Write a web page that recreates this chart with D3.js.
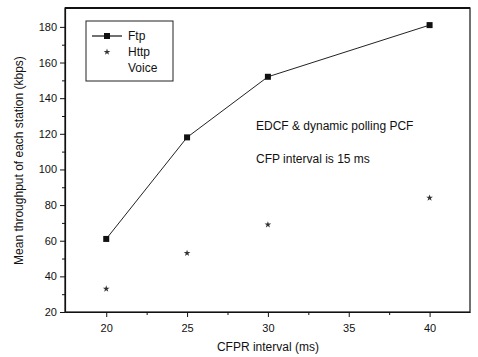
<!DOCTYPE html>
<html>
<head>
<meta charset="utf-8">
<script src="https://cdn.jsdelivr.net/npm/d3@7"></script>
<style>
  body { margin: 0; background: #fff; }
  svg { font-family: "Liberation Sans", Arial, sans-serif; }
</style>
</head>
<body>
<div id="chart"></div>
<script>
// data
const intervals = [20, 25, 30, 40];
const ftp = [61, 118, 152, 181];
const http = [33, 53, 69, 84];
const xTicks = [20, 25, 30, 35, 40];
const yTicks = [20, 40, 60, 80, 100, 120, 140, 160, 180];
const seriesNames = ["Ftp", "Http", "Voice"];
const notes = ["EDCF & dynamic polling PCF", "CFP interval is 15 ms"];

const width = 478, height = 357;
const margin = { left: 65, right: 8, top: 8, bottom: 45 };

const svg = d3.select("#chart").append("svg")
  .attr("width", width)
  .attr("height", height);

const x = d3.scaleLinear().domain([17.45, 42.5]).range([margin.left, width - margin.right]);
const y = d3.scaleLinear().domain([20, 190.6]).range([height - margin.bottom, margin.top]);

// frame
svg.append("rect")
  .attr("x", margin.left).attr("y", margin.top)
  .attr("width", width - margin.left - margin.right)
  .attr("height", height - margin.top - margin.bottom)
  .attr("fill", "none").attr("stroke", "#111").attr("stroke-width", 1.2);
svg.append("line")
  .attr("x1", margin.left).attr("x2", width - margin.right)
  .attr("y1", margin.top).attr("y2", margin.top)
  .attr("stroke", "#111").attr("stroke-width", 2);

// axes
const xAxis = svg.append("g")
  .attr("transform", `translate(0,${height - margin.bottom})`)
  .call(d3.axisBottom(x).tickValues(xTicks).tickSize(5).tickSizeOuter(0));
svg.append("g")
  .attr("transform", `translate(0,${height - margin.bottom})`)
  .call(d3.axisBottom(x).tickValues([22.5, 27.5, 32.5, 37.5]).tickSize(3).tickFormat(""))
  .select(".domain").remove();

const yAxis = svg.append("g")
  .attr("transform", `translate(${margin.left},0)`)
  .call(d3.axisLeft(y).tickValues(yTicks).tickSize(5).tickSizeOuter(0));
svg.append("g")
  .attr("transform", `translate(${margin.left},0)`)
  .call(d3.axisLeft(y).tickValues(d3.range(30, 190, 20)).tickSize(3).tickFormat(""))
  .select(".domain").remove();

svg.selectAll(".domain").attr("stroke", "#111").attr("stroke-width", 1.2);
svg.selectAll(".tick line").attr("stroke", "#111");
svg.selectAll(".tick text").attr("font-size", 11).attr("fill", "#111")
  .attr("font-family", "Liberation Sans, Arial, sans-serif");
xAxis.selectAll(".tick text").attr("dy", "1.1em");

// axis titles
svg.append("text")
  .attr("x", x(30)).attr("y", 351)
  .attr("text-anchor", "middle").attr("font-size", 12).attr("fill", "#111")
  .text("CFPR interval (ms)");
svg.append("text")
  .attr("transform", `translate(23,${y(105)}) rotate(-90)`)
  .attr("text-anchor", "middle").attr("font-size", 12).attr("fill", "#111")
  .text("Mean throughput of each station (kbps)");

// Ftp line
svg.append("path")
  .datum(intervals.map((d, i) => [d, ftp[i]]))
  .attr("fill", "none").attr("stroke", "#222").attr("stroke-width", 1)
  .attr("d", d3.line().x(d => x(d[0])).y(d => y(d[1])));
svg.selectAll(".ftp").data(intervals).enter().append("rect")
  .attr("class", "ftp")
  .attr("x", (d) => x(d) - 3).attr("y", (d, i) => y(ftp[i]) - 3)
  .attr("width", 6).attr("height", 6).attr("fill", "#111");

// Http markers (small star)
const star = d3.symbol().type(d3.symbolStar).size(14);
svg.selectAll(".http").data(intervals).enter().append("path")
  .attr("class", "http")
  .attr("d", star)
  .attr("transform", (d, i) => `translate(${x(d)},${y(http[i])})`)
  .attr("fill", "#333");

// legend
const lg = svg.append("g").attr("transform", "translate(86,21)");
lg.append("rect")
  .attr("width", 87).attr("height", 60)
  .attr("fill", "#fff").attr("stroke", "#222").attr("stroke-width", 1);
seriesNames.forEach((name, i) => {
  const yy = 15 + i * 16;
  if (i === 0) {
    lg.append("line").attr("x1", 6).attr("x2", 36).attr("y1", yy).attr("y2", yy)
      .attr("stroke", "#111").attr("stroke-width", 1.2);
    lg.append("rect").attr("x", 18).attr("y", yy - 3).attr("width", 6).attr("height", 6).attr("fill", "#111");
  } else if (i === 1) {
    lg.append("path").attr("d", star).attr("transform", `translate(21,${yy})`).attr("fill", "#333");
  }
  lg.append("text").attr("x", 42).attr("y", yy + 4)
    .attr("font-size", 12).attr("fill", "#111").text(name);
});

// annotations
notes.forEach((t, i) => {
  svg.append("text")
    .attr("x", 256).attr("y", 130 + i * 33)
    .attr("font-size", 12).attr("fill", "#111").text(t);
});
</script>
</body>
</html>
